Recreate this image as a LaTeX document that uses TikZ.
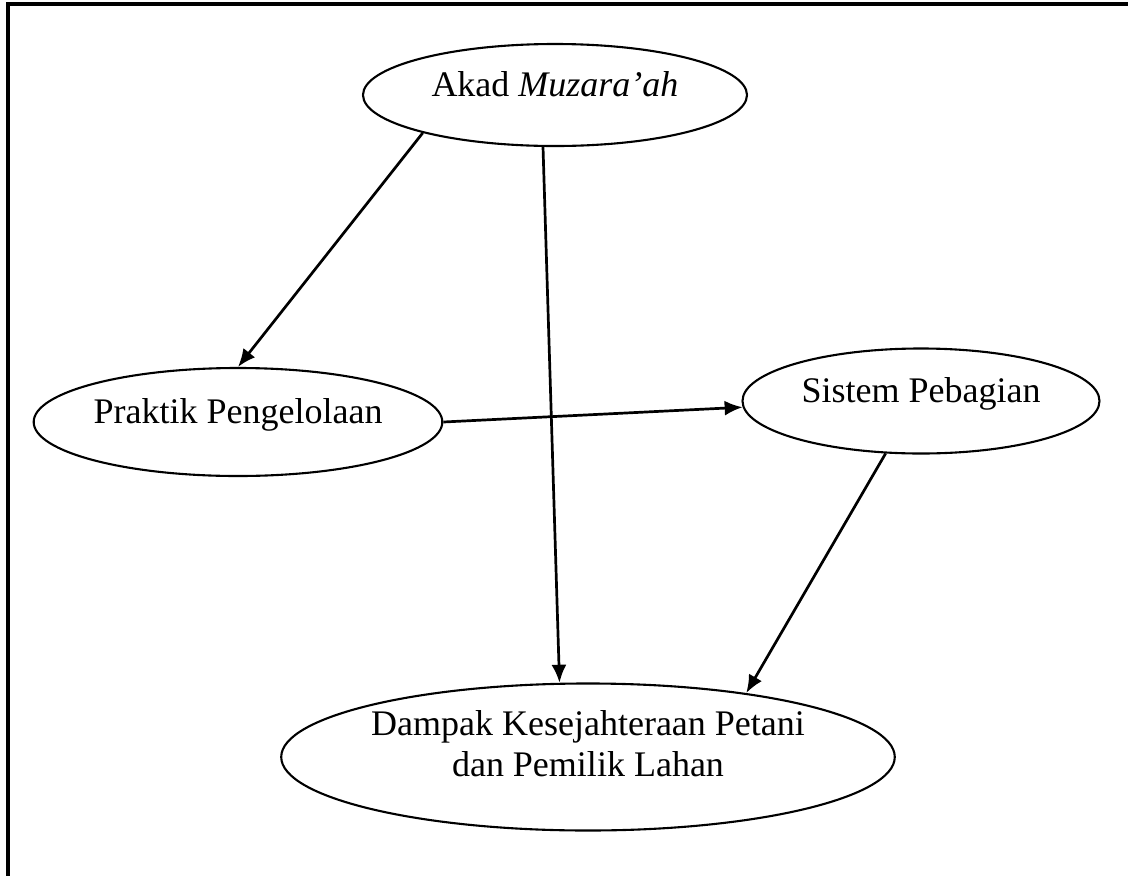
\documentclass[tikz,border=0pt]{standalone}
\usepackage{fontspec}
\setmainfont{Liberation Serif}
\usetikzlibrary{shapes.geometric,arrows.meta}

\begin{document}
\begin{tikzpicture}[x=0.3333pt, y=-0.3333pt, >={Latex[length=6pt,width=5pt]},
  oval/.style={draw, ellipse, line width=0.7pt, inner sep=0pt, text depth=7pt,
    align=center, font=\fontsize{12}{13.6}\selectfont},
  link/.style={->, line width=0.9pt}]
  \useasboundingbox (0,0) rectangle (1128,876);

  % Frame
  \coordinate (topleft) at (8,4);
  \coordinate (topright) at (1128,4);
  \coordinate (bottomleft) at (8,876);
  \draw [line width=1.1pt] (bottomleft) -- (topleft) -- (topright);

  % Define ellipses
  \node [oval, minimum width=128pt, minimum height=34pt] (akad) at (555,95) {Akad \textit{Muzara’ah}};
  \node [oval, minimum width=135pt, minimum height=36pt] (praktik) at (238,422) {Praktik Pengelolaan};
  \node [oval, minimum width=119pt, minimum height=35pt] (sistem) at (921,401) {Sistem Pebagian};
  \node [oval, minimum width=200pt, minimum height=49pt, text depth=9pt] (dampak) at (588,757)
    {Dampak Kesejahteraan Petani\\dan Pemilik Lahan};

  % Connect ellipses with arrows
  \draw [link] (akad.196) -- (praktik.north);
  \draw [link] (akad.257) -- (dampak.111);
  \draw [link] (praktik.east) -- (sistem.182);
  \draw [link] (sistem.236) -- (dampak.22);
\end{tikzpicture}
\end{document}
